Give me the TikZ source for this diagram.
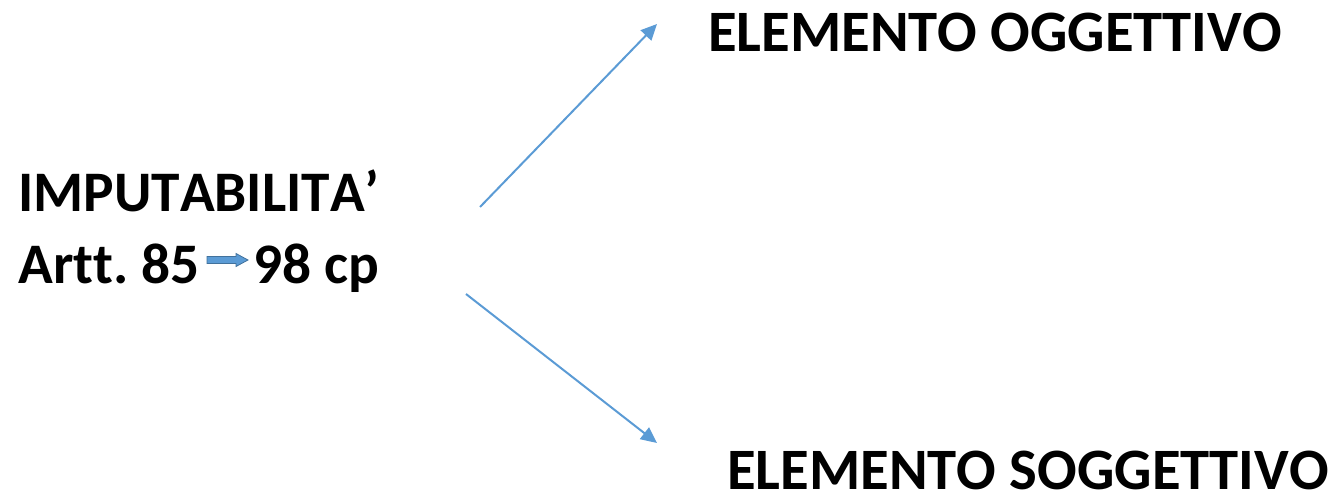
\documentclass[tikz,border=0pt]{standalone}
\usepackage{fontspec}
\setmainfont{Carlito}[Kerning=Off,Ligatures=NoCommon]
\usetikzlibrary{arrows.meta}
\definecolor{arrowblue}{HTML}{5B9BD5}
\definecolor{arrowedge}{HTML}{41719C}
\begin{document}
\begin{tikzpicture}[x=0.75pt,y=-0.75pt,
  lbl/.style={font=\fontsize{43}{50}\selectfont\bfseries, inner sep=0pt, anchor=base west},
  biglbl/.style={lbl, font=\fontsize{44}{50}\selectfont\bfseries},
  conn/.style={draw=arrowblue, line width=1.5pt, -{Triangle[length=12pt,width=11pt]}},
  blockarrow/.style={draw=arrowedge, fill=arrowblue, line width=0.6pt, line join=miter}]
\useasboundingbox (0,0) rectangle (1330,495);
\node[lbl] (imp) at (18,212) {IMPUTABILITA’};
\node[lbl] (artt) at (18,283) {Artt.\hskip0.23em 85};
\node[lbl] (nn) at (253,283) {98 cp};
\node[biglbl] (ogg) at (708,52) {ELEMENTO OGGETTIVO};
\node[biglbl] (sogg) at (727,489) {ELEMENTO SOGGETTIVO};
% small block arrow between 85 and 98
\draw[blockarrow] (207,256.5) -- (236,256.5) -- (236,253.5) -- (248,260) -- (236,266.5) -- (236,263.5) -- (207,263.5) -- cycle;
\coordinate (s1) at (480,207);
\coordinate (e1) at (657,24);
\coordinate (s2) at (466,294);
\coordinate (e2) at (657,443);
\draw[conn] (s1) -- (e1);
\draw[conn] (s2) -- (e2);
\end{tikzpicture}
\end{document}
